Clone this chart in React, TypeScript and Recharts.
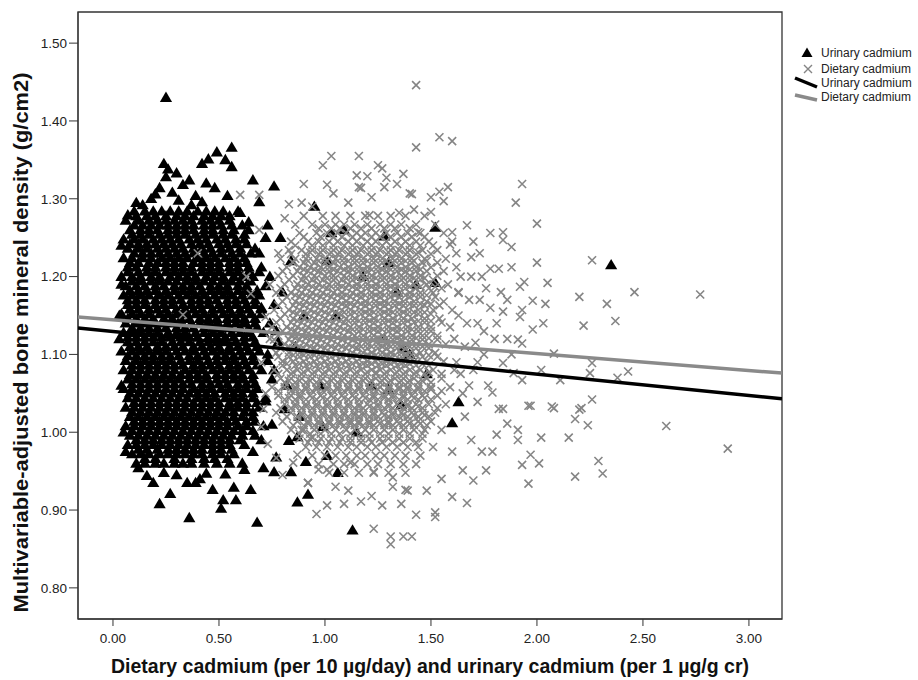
import React from 'react';
import { ScatterChart, Scatter, XAxis, YAxis, ReferenceArea } from 'recharts';

const xTicks = [0, 0.5, 1, 1.5, 2, 2.5, 3];
const yTicks = [0.8, 0.9, 1.0, 1.1, 1.2, 1.3, 1.4, 1.5];
const xDomain: [number, number] = [-0.165, 3.156];
const yDomain: [number, number] = [0.76, 1.54];

const xTitle = 'Dietary cadmium (per 10 µg/day) and urinary cadmium (per 1 µg/g cr)';
const yTitle = 'Multivariable-adjusted bone mineral density (g/cm2)';
const seriesNames = ['Urinary cadmium', 'Dietary cadmium'];

const urinaryRows: [number, number[]][] = [
  [1.284, [0.10, 0.15, 0.19, 0.23, 0.27, 0.31, 0.35, 0.40, 0.44, 0.48, 0.52, 0.59]],
  [1.278, [0.11, 0.16, 0.20, 0.25, 0.30, 0.34, 0.38, 0.43, 0.47, 0.51, 0.55]],
  [1.272, [0.06, 0.12, 0.17, 0.21, 0.25, 0.29, 0.33, 0.37, 0.42, 0.46, 0.50, 0.55]],
  [1.266, [0.10, 0.14, 0.18, 0.22, 0.26, 0.30, 0.34, 0.38, 0.43, 0.47, 0.51, 0.56, 0.61]],
  [1.260, [0.08, 0.13, 0.17, 0.21, 0.26, 0.30, 0.34, 0.38, 0.43, 0.47, 0.52, 0.57, 0.64]],
  [1.254, [0.09, 0.13, 0.17, 0.22, 0.26, 0.30, 0.34, 0.39, 0.43, 0.47, 0.52, 0.56, 0.62]],
  [1.248, [0.05, 0.10, 0.14, 0.19, 0.23, 0.27, 0.31, 0.36, 0.40, 0.44, 0.49, 0.53, 0.58, 0.62]],
  [1.242, [0.08, 0.12, 0.16, 0.20, 0.24, 0.28, 0.32, 0.37, 0.41, 0.45, 0.50, 0.54, 0.58, 0.63]],
  [1.236, [0.07, 0.12, 0.16, 0.21, 0.25, 0.29, 0.33, 0.38, 0.42, 0.46, 0.51, 0.55, 0.60, 0.67]],
  [1.230, [0.10, 0.14, 0.18, 0.22, 0.26, 0.30, 0.34, 0.38, 0.43, 0.47, 0.51, 0.56, 0.60, 0.65]],
  [1.224, [0.05, 0.09, 0.14, 0.18, 0.23, 0.27, 0.31, 0.35, 0.40, 0.44, 0.48, 0.53, 0.57, 0.62]],
  [1.218, [0.08, 0.12, 0.17, 0.21, 0.25, 0.29, 0.33, 0.38, 0.42, 0.46, 0.50, 0.55, 0.59, 0.63]],
  [1.212, [0.07, 0.11, 0.16, 0.20, 0.25, 0.29, 0.33, 0.37, 0.42, 0.46, 0.50, 0.55, 0.59, 0.64, 0.70]],
  [1.206, [0.07, 0.12, 0.16, 0.20, 0.25, 0.29, 0.33, 0.37, 0.42, 0.46, 0.50, 0.55, 0.59, 0.64, 0.69]],
  [1.200, [0.04, 0.09, 0.13, 0.18, 0.22, 0.27, 0.31, 0.35, 0.39, 0.44, 0.48, 0.52, 0.57, 0.61, 0.66]],
  [1.194, [0.09, 0.13, 0.18, 0.22, 0.26, 0.30, 0.35, 0.39, 0.43, 0.47, 0.52, 0.56, 0.60, 0.65]],
  [1.188, [0.06, 0.11, 0.15, 0.20, 0.24, 0.29, 0.33, 0.37, 0.41, 0.46, 0.50, 0.54, 0.59, 0.63, 0.72]],
  [1.182, [0.08, 0.12, 0.16, 0.20, 0.25, 0.29, 0.33, 0.37, 0.42, 0.46, 0.50, 0.54, 0.59, 0.63, 0.68]],
  [1.176, [0.05, 0.09, 0.13, 0.17, 0.22, 0.26, 0.31, 0.35, 0.39, 0.43, 0.48, 0.52, 0.56, 0.61, 0.65, 0.69]],
  [1.170, [0.07, 0.11, 0.15, 0.20, 0.24, 0.28, 0.32, 0.37, 0.41, 0.45, 0.49, 0.54, 0.58, 0.62, 0.67]],
  [1.164, [0.07, 0.11, 0.15, 0.20, 0.24, 0.28, 0.33, 0.37, 0.41, 0.45, 0.50, 0.54, 0.58, 0.63, 0.67, 0.76]],
  [1.158, [0.08, 0.12, 0.17, 0.21, 0.25, 0.30, 0.34, 0.38, 0.42, 0.47, 0.51, 0.55, 0.60, 0.64, 0.70]],
  [1.152, [0.04, 0.09, 0.13, 0.17, 0.22, 0.26, 0.30, 0.35, 0.39, 0.43, 0.47, 0.52, 0.56, 0.60, 0.65, 0.70]],
  [1.146, [0.07, 0.11, 0.15, 0.19, 0.24, 0.28, 0.32, 0.36, 0.41, 0.45, 0.49, 0.54, 0.58, 0.62, 0.67]],
  [1.140, [0.06, 0.11, 0.15, 0.19, 0.24, 0.28, 0.32, 0.37, 0.41, 0.45, 0.49, 0.54, 0.58, 0.62, 0.67, 0.74]],
  [1.134, [0.09, 0.13, 0.17, 0.21, 0.25, 0.30, 0.34, 0.38, 0.43, 0.47, 0.51, 0.55, 0.60, 0.64, 0.68]],
  [1.128, [0.05, 0.09, 0.13, 0.17, 0.21, 0.26, 0.30, 0.34, 0.39, 0.43, 0.47, 0.51, 0.56, 0.60, 0.64, 0.71]],
  [1.122, [0.07, 0.11, 0.15, 0.19, 0.23, 0.27, 0.32, 0.36, 0.40, 0.45, 0.49, 0.53, 0.57, 0.62, 0.66]],
  [1.116, [0.07, 0.11, 0.15, 0.19, 0.23, 0.28, 0.32, 0.36, 0.41, 0.45, 0.49, 0.53, 0.58, 0.62, 0.67, 0.78]],
  [1.110, [0.08, 0.12, 0.16, 0.21, 0.25, 0.29, 0.33, 0.38, 0.42, 0.46, 0.50, 0.55, 0.59, 0.63, 0.68]],
  [1.104, [0.04, 0.09, 0.13, 0.17, 0.21, 0.25, 0.30, 0.34, 0.38, 0.43, 0.47, 0.51, 0.55, 0.60, 0.64, 0.69]],
  [1.098, [0.07, 0.11, 0.15, 0.19, 0.23, 0.27, 0.31, 0.36, 0.40, 0.44, 0.49, 0.53, 0.57, 0.61, 0.66]],
  [1.092, [0.06, 0.11, 0.15, 0.19, 0.23, 0.27, 0.32, 0.36, 0.40, 0.45, 0.49, 0.53, 0.57, 0.62, 0.66, 0.73]],
  [1.086, [0.09, 0.13, 0.17, 0.21, 0.25, 0.29, 0.33, 0.38, 0.42, 0.46, 0.50, 0.55, 0.59, 0.63, 0.68]],
  [1.080, [0.05, 0.09, 0.13, 0.17, 0.21, 0.25, 0.29, 0.34, 0.38, 0.42, 0.47, 0.51, 0.55, 0.59, 0.64, 0.70]],
  [1.074, [0.08, 0.12, 0.16, 0.20, 0.24, 0.28, 0.32, 0.36, 0.40, 0.44, 0.49, 0.53, 0.57, 0.61, 0.66]],
  [1.068, [0.07, 0.11, 0.15, 0.19, 0.23, 0.27, 0.31, 0.36, 0.40, 0.44, 0.49, 0.53, 0.57, 0.61, 0.66, 0.75]],
  [1.062, [0.09, 0.13, 0.17, 0.21, 0.25, 0.29, 0.33, 0.37, 0.42, 0.46, 0.50, 0.54, 0.59, 0.63, 0.67]],
  [1.056, [0.05, 0.09, 0.13, 0.17, 0.21, 0.25, 0.29, 0.33, 0.38, 0.42, 0.46, 0.51, 0.55, 0.59, 0.63, 0.68]],
  [1.050, [0.08, 0.12, 0.16, 0.20, 0.24, 0.28, 0.32, 0.36, 0.40, 0.44, 0.48, 0.53, 0.57, 0.61, 0.66]],
  [1.044, [0.07, 0.11, 0.15, 0.19, 0.23, 0.27, 0.31, 0.35, 0.40, 0.44, 0.48, 0.53, 0.57, 0.61, 0.66, 0.72]],
  [1.038, [0.10, 0.14, 0.18, 0.22, 0.26, 0.30, 0.34, 0.38, 0.42, 0.46, 0.50, 0.55, 0.59, 0.63, 0.68]],
  [1.032, [0.06, 0.10, 0.14, 0.18, 0.22, 0.26, 0.30, 0.34, 0.38, 0.42, 0.46, 0.50, 0.55, 0.59, 0.63, 0.69]],
  [1.026, [0.09, 0.13, 0.17, 0.21, 0.25, 0.29, 0.33, 0.37, 0.41, 0.45, 0.49, 0.53, 0.57, 0.62, 0.66]],
  [1.020, [0.08, 0.12, 0.16, 0.20, 0.24, 0.28, 0.32, 0.36, 0.40, 0.44, 0.48, 0.52, 0.57, 0.61, 0.66]],
  [1.014, [0.10, 0.14, 0.18, 0.22, 0.26, 0.30, 0.34, 0.38, 0.42, 0.46, 0.50, 0.54, 0.58, 0.63, 0.67]],
  [1.008, [0.06, 0.10, 0.14, 0.18, 0.22, 0.26, 0.30, 0.34, 0.38, 0.42, 0.46, 0.50, 0.54, 0.59, 0.63, 0.71]],
  [1.002, [0.09, 0.13, 0.17, 0.21, 0.25, 0.29, 0.33, 0.37, 0.41, 0.45, 0.49, 0.53, 0.57, 0.61, 0.66]],
  [0.996, [0.08, 0.12, 0.16, 0.20, 0.24, 0.28, 0.32, 0.36, 0.40, 0.44, 0.48, 0.52, 0.56, 0.61, 0.67]],
  [0.990, [0.11, 0.15, 0.19, 0.23, 0.27, 0.31, 0.35, 0.39, 0.43, 0.47, 0.51, 0.55, 0.60]],
  [0.984, [0.07, 0.11, 0.15, 0.19, 0.23, 0.27, 0.31, 0.35, 0.39, 0.43, 0.47, 0.51, 0.55, 0.62]],
  [0.978, [0.12, 0.16, 0.21, 0.26, 0.30, 0.34, 0.38, 0.42, 0.47, 0.51, 0.56]],
  [0.972, [0.09, 0.13, 0.17, 0.22, 0.26, 0.30, 0.34, 0.38, 0.42, 0.47, 0.51, 0.57]],
  [0.966, [0.15, 0.20, 0.29, 0.37, 0.43, 0.48, 0.54]],
  [0.960, [0.11, 0.15, 0.20, 0.24, 0.29, 0.33, 0.37, 0.43, 0.49, 0.55, 0.61]],
];

// urinary cadmium, scattered points around the block
const urinaryLoose: [number, number][] = [
  [0.25, 1.430], [0.56, 1.366], [0.49, 1.360], [0.53, 1.350], [0.45, 1.351], [0.42, 1.345], [0.56, 1.341],
  [0.24, 1.345], [0.26, 1.338], [0.30, 1.333], [0.25, 1.328], [0.44, 1.320], [0.36, 1.324], [0.33, 1.318],
  [0.66, 1.324], [0.76, 1.316], [0.48, 1.314], [0.54, 1.304], [0.69, 1.296], [0.11, 1.295], [0.07, 1.279],
  [0.22, 1.314], [0.28, 1.308], [0.39, 1.304], [0.18, 1.300], [0.14, 1.292], [0.60, 1.282], [0.73, 1.266],
  [0.20, 1.306], [0.31, 1.298], [0.42, 1.296], [0.37, 1.292],
  [0.12, 0.954], [0.19, 0.935], [0.27, 0.921], [0.22, 0.908], [0.36, 0.890], [0.51, 0.902], [0.52, 0.913],
  [0.58, 0.913], [0.65, 0.926], [0.57, 0.929], [0.47, 0.926], [0.35, 0.935], [0.39, 0.935], [0.44, 0.947],
  [0.68, 0.884], [0.71, 0.954], [0.76, 0.949], [0.84, 0.949], [0.77, 0.968], [0.83, 0.989], [0.87, 0.994],
  [0.99, 1.007], [0.87, 0.910], [0.92, 0.920], [0.91, 0.962], [1.06, 0.948], [1.01, 0.970], [0.30, 0.945],
  [0.24, 0.948], [0.16, 0.944], [0.53, 0.946], [0.62, 0.952], [0.41, 0.940],
  [1.13, 0.874], [2.35, 1.215], [1.52, 1.263], [1.60, 1.012], [1.63, 1.039], [1.52, 1.192], [1.01, 1.220],
  [1.30, 1.218], [1.28, 1.252], [1.03, 1.256], [1.30, 1.055], [1.48, 1.075], [1.37, 1.108],
  [0.95, 1.290], [1.09, 1.260], [1.18, 1.200], [1.34, 1.180], [1.05, 1.150], [1.28, 1.120], [1.40, 1.100],
  [1.22, 1.060], [1.36, 1.035], [1.15, 1.000], [0.98, 1.060], [1.43, 1.190], [0.82, 1.060], [0.86, 1.110],
  [0.80, 1.180], [0.84, 1.220], [0.90, 1.150], [0.79, 1.250], [0.81, 1.030], [0.88, 1.020],
  [0.72, 1.250], [0.69, 1.230], [0.74, 1.200], [0.70, 1.160], [0.77, 1.130], [0.73, 1.100], [0.76, 1.080],
  [0.72, 1.040], [0.75, 1.010], [0.70, 0.990], [0.66, 0.975], [0.64, 1.270],
  [0.04, 1.190], [0.03, 1.120], [0.04, 1.060], [0.05, 1.000], [0.06, 0.975], [0.04, 1.240], [0.03, 1.150],
];

const dietaryRows: [number, number[]][] = [
  [1.278, [0.90, 0.99, 1.05, 1.12, 1.19, 1.25, 1.31, 1.38, 1.47]],
  [1.267, [0.86, 0.94, 1.00, 1.05, 1.09, 1.14, 1.20, 1.26, 1.31, 1.36, 1.43, 1.52]],
  [1.262, [0.97, 1.03, 1.07, 1.12, 1.17, 1.22, 1.28, 1.33, 1.40]],
  [1.256, [0.88, 0.96, 1.01, 1.06, 1.10, 1.15, 1.19, 1.24, 1.29, 1.34, 1.39, 1.45, 1.56]],
  [1.251, [0.90, 0.98, 1.04, 1.08, 1.13, 1.17, 1.22, 1.26, 1.31, 1.36, 1.41, 1.47]],
  [1.245, [0.84, 0.92, 0.97, 1.02, 1.06, 1.11, 1.15, 1.20, 1.24, 1.29, 1.33, 1.38, 1.43, 1.49, 1.60]],
  [1.240, [0.86, 0.94, 0.99, 1.04, 1.09, 1.13, 1.18, 1.22, 1.27, 1.31, 1.36, 1.40, 1.45, 1.51]],
  [1.234, [0.83, 0.89, 0.94, 0.99, 1.04, 1.08, 1.13, 1.17, 1.22, 1.26, 1.31, 1.35, 1.40, 1.46, 1.53]],
  [1.229, [0.84, 0.91, 0.97, 1.02, 1.06, 1.11, 1.15, 1.20, 1.24, 1.29, 1.33, 1.38, 1.43, 1.50]],
  [1.223, [0.79, 0.86, 0.91, 0.96, 1.00, 1.05, 1.09, 1.14, 1.18, 1.23, 1.27, 1.32, 1.36, 1.41, 1.47, 1.57]],
  [1.218, [0.85, 0.90, 0.95, 1.00, 1.04, 1.09, 1.14, 1.18, 1.23, 1.27, 1.32, 1.36, 1.41, 1.46, 1.53]],
  [1.212, [0.82, 0.88, 0.93, 0.98, 1.02, 1.07, 1.11, 1.16, 1.20, 1.25, 1.29, 1.34, 1.38, 1.43, 1.50, 1.62]],
  [1.207, [0.80, 0.87, 0.92, 0.97, 1.02, 1.06, 1.11, 1.16, 1.20, 1.25, 1.29, 1.34, 1.38, 1.43, 1.48, 1.56]],
  [1.201, [0.78, 0.85, 0.90, 0.95, 1.00, 1.04, 1.09, 1.13, 1.18, 1.22, 1.27, 1.31, 1.36, 1.40, 1.45, 1.53]],
  [1.196, [0.83, 0.89, 0.94, 0.99, 1.04, 1.08, 1.13, 1.18, 1.22, 1.27, 1.31, 1.36, 1.40, 1.45, 1.51]],
  [1.190, [0.81, 0.87, 0.92, 0.97, 1.02, 1.06, 1.11, 1.15, 1.20, 1.24, 1.29, 1.33, 1.38, 1.42, 1.48, 1.58]],
  [1.185, [0.79, 0.86, 0.91, 0.96, 1.01, 1.06, 1.10, 1.15, 1.20, 1.24, 1.29, 1.33, 1.38, 1.43, 1.49, 1.55]],
  [1.179, [0.77, 0.84, 0.89, 0.94, 0.99, 1.04, 1.08, 1.13, 1.17, 1.22, 1.26, 1.31, 1.35, 1.40, 1.45, 1.51, 1.63]],
  [1.174, [0.82, 0.88, 0.93, 0.98, 1.03, 1.08, 1.12, 1.17, 1.22, 1.26, 1.31, 1.35, 1.40, 1.45, 1.52]],
  [1.168, [0.80, 0.86, 0.91, 0.96, 1.01, 1.06, 1.10, 1.15, 1.19, 1.24, 1.28, 1.33, 1.37, 1.42, 1.48, 1.56]],
  [1.163, [0.78, 0.85, 0.90, 0.95, 1.00, 1.05, 1.10, 1.14, 1.19, 1.24, 1.28, 1.33, 1.37, 1.42, 1.47, 1.54]],
  [1.157, [0.76, 0.83, 0.88, 0.93, 0.98, 1.03, 1.08, 1.12, 1.17, 1.21, 1.26, 1.30, 1.35, 1.39, 1.44, 1.51, 1.60]],
  [1.152, [0.81, 0.87, 0.92, 0.97, 1.02, 1.07, 1.12, 1.17, 1.21, 1.26, 1.30, 1.35, 1.39, 1.44, 1.50]],
  [1.146, [0.79, 0.85, 0.90, 0.95, 1.00, 1.05, 1.10, 1.14, 1.19, 1.23, 1.28, 1.32, 1.37, 1.41, 1.47, 1.54]],
  [1.141, [0.77, 0.84, 0.89, 0.94, 0.99, 1.04, 1.09, 1.14, 1.19, 1.23, 1.28, 1.32, 1.37, 1.42, 1.47, 1.55]],
  [1.135, [0.75, 0.82, 0.87, 0.92, 0.97, 1.02, 1.07, 1.12, 1.16, 1.21, 1.25, 1.30, 1.34, 1.39, 1.44, 1.50, 1.59]],
  [1.130, [0.80, 0.86, 0.91, 0.96, 1.01, 1.06, 1.11, 1.16, 1.21, 1.25, 1.30, 1.34, 1.39, 1.44, 1.50]],
  [1.124, [0.78, 0.84, 0.89, 0.94, 0.99, 1.04, 1.09, 1.14, 1.18, 1.23, 1.27, 1.32, 1.36, 1.41, 1.46, 1.53]],
  [1.119, [0.76, 0.83, 0.88, 0.93, 0.98, 1.03, 1.08, 1.13, 1.18, 1.23, 1.27, 1.32, 1.36, 1.41, 1.46, 1.53]],
  [1.113, [0.81, 0.86, 0.91, 0.96, 1.01, 1.06, 1.11, 1.16, 1.20, 1.25, 1.29, 1.34, 1.38, 1.43, 1.49, 1.57]],
  [1.108, [0.79, 0.85, 0.90, 0.95, 1.00, 1.05, 1.10, 1.15, 1.20, 1.25, 1.29, 1.34, 1.38, 1.43, 1.49]],
  [1.102, [0.77, 0.83, 0.88, 0.93, 0.98, 1.03, 1.08, 1.13, 1.18, 1.22, 1.27, 1.31, 1.36, 1.40, 1.45, 1.52]],
  [1.097, [0.78, 0.83, 0.88, 0.93, 0.98, 1.03, 1.08, 1.13, 1.18, 1.22, 1.27, 1.31, 1.36, 1.40, 1.46, 1.53]],
  [1.091, [0.80, 0.85, 0.90, 0.95, 1.00, 1.05, 1.10, 1.15, 1.20, 1.24, 1.29, 1.33, 1.38, 1.42, 1.48, 1.56]],
  [1.086, [0.80, 0.86, 0.91, 0.96, 1.01, 1.06, 1.11, 1.16, 1.20, 1.25, 1.29, 1.34, 1.38, 1.43, 1.49]],
  [1.080, [0.76, 0.82, 0.87, 0.92, 0.97, 1.02, 1.07, 1.12, 1.17, 1.22, 1.26, 1.31, 1.35, 1.40, 1.45, 1.51, 1.61]],
  [1.075, [0.78, 0.84, 0.89, 0.94, 0.99, 1.04, 1.09, 1.14, 1.19, 1.24, 1.28, 1.33, 1.37, 1.42, 1.47, 1.55]],
  [1.069, [0.79, 0.84, 0.89, 0.94, 0.99, 1.04, 1.09, 1.14, 1.19, 1.24, 1.28, 1.33, 1.37, 1.42, 1.48, 1.55]],
  [1.064, [0.81, 0.86, 0.91, 0.96, 1.01, 1.06, 1.11, 1.16, 1.21, 1.26, 1.30, 1.35, 1.39, 1.44, 1.50]],
  [1.058, [0.75, 0.81, 0.86, 0.91, 0.96, 1.01, 1.06, 1.11, 1.16, 1.21, 1.26, 1.30, 1.35, 1.39, 1.44, 1.50, 1.59]],
  [1.053, [0.78, 0.84, 0.89, 0.94, 0.99, 1.04, 1.09, 1.14, 1.19, 1.24, 1.28, 1.33, 1.37, 1.42, 1.47, 1.55]],
  [1.047, [0.78, 0.84, 0.88, 0.93, 0.98, 1.03, 1.08, 1.13, 1.18, 1.23, 1.28, 1.32, 1.37, 1.41, 1.46, 1.53]],
  [1.042, [0.81, 0.86, 0.91, 0.96, 1.01, 1.06, 1.11, 1.16, 1.21, 1.25, 1.30, 1.35, 1.39, 1.44, 1.50]],
  [1.036, [0.81, 0.86, 0.91, 0.96, 1.01, 1.06, 1.11, 1.16, 1.20, 1.25, 1.30, 1.34, 1.39, 1.43, 1.49, 1.57]],
  [1.031, [0.79, 0.84, 0.89, 0.94, 0.99, 1.04, 1.09, 1.14, 1.18, 1.23, 1.28, 1.32, 1.37, 1.41, 1.46, 1.53]],
  [1.025, [0.77, 0.84, 0.89, 0.94, 0.99, 1.04, 1.09, 1.14, 1.18, 1.23, 1.27, 1.32, 1.36, 1.41, 1.46, 1.52]],
  [1.020, [0.82, 0.87, 0.92, 0.97, 1.02, 1.07, 1.11, 1.16, 1.21, 1.25, 1.30, 1.35, 1.39, 1.44, 1.49]],
  [1.014, [0.80, 0.87, 0.92, 0.97, 1.02, 1.07, 1.12, 1.16, 1.21, 1.25, 1.30, 1.34, 1.39, 1.44, 1.50]],
  [1.009, [0.85, 0.90, 0.95, 1.00, 1.04, 1.09, 1.14, 1.18, 1.23, 1.28, 1.32, 1.37, 1.42, 1.48]],
  [1.003, [0.84, 0.90, 0.95, 1.00, 1.05, 1.10, 1.14, 1.19, 1.23, 1.28, 1.32, 1.37, 1.42, 1.47, 1.55]],
  [0.998, [0.88, 0.93, 0.98, 1.03, 1.07, 1.12, 1.17, 1.21, 1.26, 1.30, 1.35, 1.40, 1.46]],
  [0.992, [0.88, 0.93, 0.98, 1.03, 1.08, 1.12, 1.17, 1.21, 1.26, 1.30, 1.35, 1.40, 1.46]],
  [0.987, [0.92, 0.97, 1.02, 1.07, 1.12, 1.17, 1.22, 1.27, 1.32, 1.37, 1.43]],
  [0.981, [0.91, 0.96, 1.01, 1.06, 1.11, 1.15, 1.20, 1.24, 1.29, 1.34, 1.39, 1.44, 1.51]],
  [0.970, [0.94, 1.00, 1.05, 1.10, 1.15, 1.19, 1.24, 1.28, 1.33, 1.38, 1.45]],
  [0.959, [0.97, 1.04, 1.09, 1.14, 1.20, 1.25, 1.31, 1.37, 1.43]],
  [0.948, [1.02, 1.09, 1.16, 1.23, 1.30, 1.38]],
];

// dietary cadmium, the darkest middle of the cloud: [y, x positions]
const dietaryCore: [number, number[]][] = [
  [1.231, [0.93, 0.98, 1.03, 1.07, 1.12, 1.16, 1.21, 1.25, 1.30, 1.34, 1.39, 1.44]],
  [1.220, [0.92, 0.97, 1.01, 1.06, 1.11, 1.15, 1.20, 1.24, 1.29, 1.33, 1.38, 1.42, 1.48]],
  [1.209, [0.90, 0.95, 0.99, 1.04, 1.09, 1.13, 1.18, 1.22, 1.27, 1.31, 1.36, 1.40, 1.45]],
  [1.198, [0.91, 0.96, 1.01, 1.05, 1.10, 1.15, 1.19, 1.24, 1.28, 1.33, 1.37, 1.42, 1.47]],
  [1.187, [0.89, 0.94, 0.99, 1.03, 1.08, 1.13, 1.17, 1.22, 1.26, 1.31, 1.35, 1.40, 1.45, 1.52]],
  [1.176, [0.86, 0.91, 0.96, 1.01, 1.06, 1.10, 1.15, 1.19, 1.24, 1.28, 1.33, 1.38, 1.42, 1.48]],
  [1.165, [0.88, 0.93, 0.98, 1.03, 1.08, 1.12, 1.17, 1.21, 1.26, 1.30, 1.35, 1.40, 1.45, 1.50]],
  [1.154, [0.85, 0.90, 0.95, 1.00, 1.05, 1.09, 1.14, 1.19, 1.23, 1.28, 1.32, 1.37, 1.42, 1.47]],
  [1.143, [0.87, 0.92, 0.97, 1.02, 1.07, 1.11, 1.16, 1.21, 1.25, 1.30, 1.34, 1.39, 1.44, 1.50]],
  [1.132, [0.84, 0.89, 0.94, 0.99, 1.04, 1.09, 1.13, 1.18, 1.23, 1.27, 1.32, 1.36, 1.41, 1.47]],
  [1.121, [0.86, 0.91, 0.96, 1.01, 1.06, 1.11, 1.15, 1.20, 1.25, 1.29, 1.34, 1.38, 1.43, 1.49]],
  [1.110, [0.83, 0.88, 0.93, 0.98, 1.03, 1.08, 1.13, 1.17, 1.22, 1.27, 1.31, 1.36, 1.40, 1.46]],
  [1.099, [0.85, 0.90, 0.95, 1.00, 1.05, 1.10, 1.15, 1.20, 1.24, 1.29, 1.33, 1.38, 1.43, 1.49]],
  [1.088, [0.82, 0.88, 0.93, 0.98, 1.03, 1.08, 1.13, 1.18, 1.22, 1.27, 1.31, 1.36, 1.40, 1.46]],
  [1.077, [0.85, 0.90, 0.95, 1.00, 1.05, 1.10, 1.15, 1.20, 1.24, 1.29, 1.34, 1.38, 1.43, 1.49]],
  [1.066, [0.83, 0.88, 0.93, 0.98, 1.03, 1.08, 1.13, 1.18, 1.22, 1.27, 1.31, 1.36, 1.40, 1.46]],
  [1.055, [0.86, 0.91, 0.96, 1.01, 1.06, 1.11, 1.16, 1.21, 1.25, 1.30, 1.35, 1.39, 1.44, 1.50]],
  [1.044, [0.83, 0.88, 0.94, 0.99, 1.04, 1.09, 1.14, 1.19, 1.23, 1.28, 1.32, 1.37, 1.42, 1.47]],
  [1.033, [0.86, 0.91, 0.96, 1.01, 1.06, 1.11, 1.16, 1.21, 1.25, 1.30, 1.35, 1.39, 1.44]],
  [1.022, [0.89, 0.94, 0.99, 1.04, 1.09, 1.14, 1.18, 1.23, 1.28, 1.32, 1.37, 1.42, 1.47]],
  [1.011, [0.92, 0.97, 1.02, 1.07, 1.12, 1.16, 1.21, 1.26, 1.30, 1.35, 1.40, 1.45]],
];

// dietary cadmium, scattered points around the cloud
const dietaryLoose: [number, number][] = [
  [1.43, 1.446], [1.54, 1.379], [1.60, 1.374], [1.43, 1.366], [1.16, 1.355], [1.03, 1.355], [1.25, 1.343],
  [1.27, 1.339], [1.15, 1.330], [1.20, 1.329], [1.37, 1.332], [1.29, 1.327], [1.17, 1.314], [1.34, 1.319],
  [1.28, 1.315], [1.41, 1.306], [1.50, 1.302], [1.54, 1.309], [1.58, 1.315], [1.56, 1.297], [1.42, 1.286],
  [1.50, 1.283], [1.35, 1.282], [1.22, 1.302], [1.21, 1.279], [1.11, 1.295], [1.04, 1.307], [0.99, 1.343],
  [1.01, 1.318], [0.90, 1.319], [0.60, 1.305], [0.69, 1.305], [0.83, 1.293], [0.89, 1.295], [0.81, 1.275],
  [0.94, 1.290], [1.16, 1.315], [1.40, 1.307],
  [1.93, 1.319], [1.90, 1.295], [2.00, 1.268], [1.44, 1.257], [1.60, 1.257], [1.67, 1.266], [1.70, 1.245],
  [1.78, 1.256], [1.84, 1.257], [1.84, 1.247], [1.88, 1.238], [1.59, 1.241], [2.26, 1.221], [2.00, 1.218],
  [1.88, 1.212], [2.05, 1.192], [1.94, 1.193], [1.92, 1.187], [2.20, 1.174], [1.98, 1.169], [2.04, 1.165],
  [1.86, 1.170], [1.84, 1.155], [1.93, 1.157], [2.22, 1.137], [2.03, 1.140], [1.98, 1.132], [1.92, 1.148],
  [1.91, 1.119], [1.93, 1.114], [2.08, 1.101], [2.26, 1.089], [2.25, 1.076], [2.02, 1.080], [2.11, 1.067],
  [1.84, 1.089], [1.89, 1.076], [1.93, 1.067], [1.79, 1.051], [1.84, 1.030], [1.97, 1.034], [2.08, 1.031],
  [2.26, 1.042], [2.20, 1.029], [1.72, 1.039],
  [1.64, 1.200], [1.68, 1.170], [1.72, 1.140], [1.66, 1.110], [1.70, 1.080], [1.75, 1.100], [1.65, 1.050],
  [1.74, 1.200], [1.78, 1.160], [1.62, 1.230], [1.69, 1.225], [1.80, 1.120], [1.77, 1.060], [1.82, 1.210],
  [1.66, 1.020], [1.76, 1.185], [1.81, 1.140], [1.71, 1.115], [1.86, 1.120], [1.73, 1.230],
  [1.63, 1.180], [1.67, 1.140], [1.62, 1.090], [1.68, 1.060], [1.63, 1.150], [1.73, 1.170], [1.61, 1.120],
  [1.75, 1.130], [1.69, 1.200], [1.64, 1.075], [1.72, 1.090], [1.78, 1.210], [1.83, 1.180], [1.88, 1.100],
  [2.46, 1.180], [2.77, 1.177], [2.37, 1.143], [2.43, 1.078], [2.38, 1.070], [2.61, 1.008], [2.90, 0.979],
  [2.33, 1.165],
  [2.07, 1.033], [2.21, 1.031], [2.18, 1.017], [2.24, 1.009], [2.15, 0.993], [2.02, 0.993], [2.29, 0.963],
  [2.31, 0.947], [2.18, 0.943], [1.97, 0.971], [2.01, 0.960], [1.93, 0.958], [1.96, 0.934], [1.70, 0.938],
  [1.76, 0.951], [1.65, 0.951], [1.60, 0.917], [1.67, 0.909], [1.52, 0.897], [1.52, 0.891], [1.43, 0.894],
  [1.23, 0.876], [1.31, 0.866], [1.37, 0.866], [1.41, 0.866], [1.31, 0.856], [1.09, 0.908], [1.17, 0.911],
  [1.27, 0.906], [1.36, 0.908], [1.11, 0.925], [1.22, 0.918], [1.39, 0.925], [1.86, 1.011], [1.91, 1.003],
  [1.91, 0.990], [1.82, 1.030], [1.96, 1.034], [1.81, 0.997], [1.74, 0.975], [1.79, 0.975], [0.96, 0.895],
  [1.01, 0.906], [0.92, 0.935], [1.60, 0.975], [1.55, 0.940], [1.48, 0.925], [1.32, 0.930], [1.05, 0.930],
  [1.69, 0.990],
  [0.40, 1.230], [0.33, 1.151], [0.63, 1.200], [0.65, 1.178], [0.72, 1.148], [0.70, 1.007], [0.89, 1.003],
  [0.94, 0.993], [0.87, 0.971], [0.97, 0.952], [1.01, 0.952], [1.12, 0.961], [1.23, 0.949], [1.32, 0.942],
  [1.38, 0.926], [0.77, 0.967], [0.85, 0.961], [0.92, 0.935], [0.72, 1.050], [0.70, 1.090], [0.74, 1.120],
  [0.71, 1.030], [0.73, 0.985], [0.80, 0.945], [0.69, 1.260], [0.78, 1.230], [0.74, 1.190],
];

// fitted lines, read at the two plot edges
const urinaryFit: [number, number][] = [[-0.165, 1.134], [3.156, 1.043]];
const dietaryFit: [number, number][] = [[-0.165, 1.148], [3.156, 1.076]];

const fromRows = (rows: [number, number[]][]) => rows.flatMap(([y, xs]) => xs.map((x) => ({ x, y })));
const fromPairs = (pairs: [number, number][]) => pairs.map(([x, y]) => ({ x, y }));

const urinaryData = [...fromRows(urinaryRows), ...fromPairs(urinaryLoose)];
const dietaryData = [...fromRows(dietaryRows), ...fromRows(dietaryCore), ...fromPairs(dietaryLoose)];

const FONT = '"Liberation Sans", Arial, sans-serif';
const CROSS_GREY = '#858585';
const LINE_GREY = '#8a8a8a';

const TriangleDot = (props: any) => {
  const { cx, cy } = props;
  if (cx == null || cy == null) return <g />;
  return <path d={`M${cx},${cy - 6}L${cx + 6.1},${cy + 4.3}L${cx - 6.1},${cy + 4.3}Z`} fill="#000" />;
};

const CrossDot = (props: any) => {
  const { cx, cy } = props;
  if (cx == null || cy == null) return <g />;
  const r = 4;
  return (
    <path
      d={`M${cx - r},${cy - r}L${cx + r},${cy + r}M${cx + r},${cy - r}L${cx - r},${cy + r}`}
      stroke={CROSS_GREY}
      strokeWidth={1.6}
      fill="none"
    />
  );
};

const NoDot = () => <g />;

const XTitle = (props: any) => {
  const vb = props.viewBox || { x: 78, y: 619, width: 704, height: 61 };
  return (
    <text x={vb.x + vb.width / 2} y={vb.y + 54} textAnchor="middle" fontFamily={FONT} fontWeight="bold" fontSize={19.5} fill="#111">
      {xTitle}
    </text>
  );
};

const YTitle = (props: any) => {
  const vb = props.viewBox || { x: 0, y: 12, width: 78, height: 607 };
  const cx = vb.x + 28;
  const cy = vb.y + vb.height / 2 + 27;
  return (
    <text
      x={cx}
      y={cy}
      transform={`rotate(-90, ${cx}, ${cy})`}
      textAnchor="middle"
      textLength={540}
      lengthAdjust="spacingAndGlyphs"
      fontFamily={FONT}
      fontWeight="bold"
      fontSize={19.5}
      fill="#111"
    >
      {yTitle}
    </text>
  );
};

const fmt = (v: number) => v.toFixed(2);

const App = () => {
  return (
    <div style={{ position: 'absolute', left: 0, top: 0, width: 918, height: 680, background: '#fff' }}>
      <ScatterChart width={918} height={680} margin={{ top: 12, right: 136, bottom: 0, left: 0 }}>
        <XAxis
          type="number"
          dataKey="x"
          domain={xDomain}
          ticks={xTicks}
          allowDataOverflow
          tickFormatter={fmt}
          tickSize={7}
          tickMargin={7}
          height={61}
          stroke="#333"
          tick={{ fill: '#222', fontSize: 13.5, fontFamily: FONT }}
          label={XTitle}
        />
        <YAxis
          type="number"
          dataKey="y"
          domain={yDomain}
          ticks={yTicks}
          allowDataOverflow
          tickFormatter={fmt}
          tickSize={9}
          tickMargin={2}
          width={78}
          stroke="#333"
          tick={{ fill: '#222', fontSize: 13.5, fontFamily: FONT }}
          label={YTitle}
        />
        <ReferenceArea x1={xDomain[0]} x2={xDomain[1]} y1={yDomain[0]} y2={yDomain[1]} fill="none" stroke="#333" strokeWidth={1.3} />
        <Scatter name={seriesNames[0]} data={urinaryData} shape={TriangleDot} isAnimationActive={false} />
        <Scatter name={seriesNames[1]} data={dietaryData} shape={CrossDot} isAnimationActive={false} />
        <Scatter data={fromPairs(dietaryFit)} shape={NoDot} line={{ stroke: LINE_GREY, strokeWidth: 3.5 }} isAnimationActive={false} />
        <Scatter data={fromPairs(urinaryFit)} shape={NoDot} line={{ stroke: '#000', strokeWidth: 3.5 }} isAnimationActive={false} />
      </ScatterChart>
      <svg style={{ position: 'absolute', left: 790, top: 40 }} width={128} height={70}>
        <path d="M17,7.5L22.5,17L11.5,17Z" fill="#000" />
        <text x={31} y={17} fontFamily={FONT} fontSize={12} fill="#222">{seriesNames[0]}</text>
        <path d="M14,25L22,33M22,25L14,33" stroke={CROSS_GREY} strokeWidth={1.4} />
        <text x={31} y={33} fontFamily={FONT} fontSize={12} fill="#222">{seriesNames[1]}</text>
        <line x1={5} y1={38} x2={27} y2={47} stroke="#000" strokeWidth={3.5} />
        <text x={31} y={47} fontFamily={FONT} fontSize={12} fill="#222">{seriesNames[0]}</text>
        <line x1={5} y1={55} x2={27} y2={60} stroke={LINE_GREY} strokeWidth={3.5} />
        <text x={31} y={61} fontFamily={FONT} fontSize={12} fill="#222">{seriesNames[1]}</text>
      </svg>
    </div>
  );
};

export default App;
